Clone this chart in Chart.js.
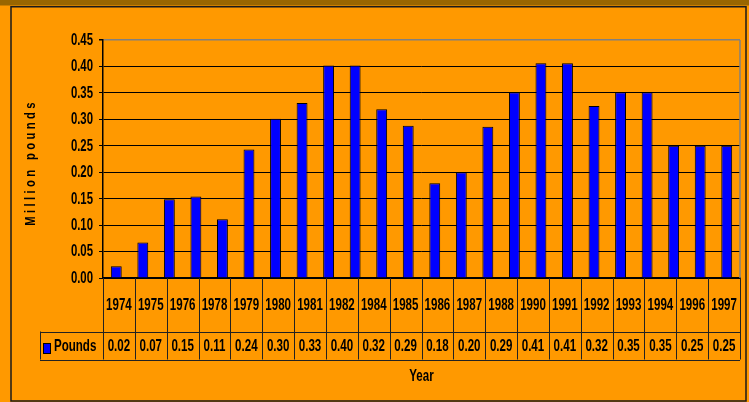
<!DOCTYPE html>
<html>
<head>
<meta charset="utf-8">
<script src="https://cdn.jsdelivr.net/npm/chart.js@4.4.0/dist/chart.umd.min.js"></script>
<style>
  html, body { margin: 0; padding: 0; background: #FF9900; }
  canvas { display: block; }
</style>
</head>
<body>
<canvas id="chart" width="749" height="402"></canvas>
<script>
// bars: one per year 1974-1997
const barYears = ['1974', '1975', '1976', '1977', '1978', '1979', '1980', '1981',
  '1982', '1983', '1984', '1985', '1986', '1987', '1988', '1989',
  '1990', '1991', '1992', '1993', '1994', '1995', '1996', '1997'];
const barValues = [0.022, 0.067, 0.149, 0.154, 0.111, 0.243, 0.301, 0.331,
  0.402, 0.402, 0.319, 0.288, 0.179, 0.200, 0.286, 0.351,
  0.406, 0.406, 0.325, 0.351, 0.351, 0.250, 0.250, 0.250];

// data table under the axis
const tableYears = ['1974', '1975', '1976', '1978', '1979', '1980', '1981', '1982', '1984', '1985',
  '1986', '1987', '1988', '1990', '1991', '1992', '1993', '1994', '1996', '1997'];
const tableValues = ['0.02', '0.07', '0.15', '0.11', '0.24', '0.30', '0.33', '0.40', '0.32', '0.29',
  '0.18', '0.20', '0.29', '0.41', '0.41', '0.32', '0.35', '0.35', '0.25', '0.25'];

const seriesName = 'Pounds';
const yTitle = 'Million pounds';
const xTitle = 'Year';

const FONT = "'Liberation Sans', Arial, sans-serif";

// narrow bold text, squeezed horizontally
function narrowText(ctx, text, x, y, size, align, sx) {
  ctx.save();
  ctx.translate(x, y);
  ctx.scale(sx, 1);
  ctx.font = 'bold ' + size + 'px ' + FONT;
  ctx.textAlign = align;
  ctx.textBaseline = 'middle';
  ctx.fillStyle = '#000';
  ctx.fillText(text, 0, 0);
  ctx.restore();
}

const framePlugin = {
  id: 'frame',
  beforeDraw(chart) {
    const ctx = chart.ctx;
    ctx.save();
    ctx.fillStyle = '#FF9900';
    ctx.fillRect(0, 0, chart.width, chart.height);
    ctx.fillStyle = '#996600';
    ctx.fillRect(0, 0, chart.width, 5.5);
    ctx.strokeStyle = '#1a1a1a';
    ctx.lineWidth = 1.5;
    ctx.strokeRect(11, 6.75, 735, 394.25);
    ctx.restore();
  },
  afterDraw(chart) {
    const ctx = chart.ctx;
    const a = chart.chartArea;
    const ys = chart.scales.y;
    ctx.save();

    // plot area right edge
    ctx.strokeStyle = '#808080';
    ctx.lineWidth = 1.5;
    ctx.beginPath();
    ctx.moveTo(a.right, a.top);
    ctx.lineTo(a.right, a.bottom);
    ctx.stroke();

    // y tick labels
    ys.ticks.forEach(t => {
      narrowText(ctx, t.value.toFixed(2), a.left - 10, ys.getPixelForValue(t.value) + 0.5, 16, 'right', 0.71);
    });

    // y axis title
    ctx.save();
    ctx.translate(31, 164);
    ctx.rotate(-Math.PI / 2);
    ctx.scale(0.75, 1);
    ctx.fillStyle = '#000';
    ctx.font = 'bold 15px ' + FONT;
    ctx.letterSpacing = '4.5px';
    ctx.textAlign = 'center';
    ctx.textBaseline = 'middle';
    ctx.fillText(yTitle, 2, 0);
    ctx.restore();

    // data table
    const colW = (a.right - a.left) / tableYears.length;
    const top = a.bottom;
    const row1 = top + 53.5;
    const row2 = top + 81.5;
    const legendLeft = 40;
    ctx.strokeStyle = '#222';
    ctx.lineWidth = 1;
    ctx.beginPath();
    ctx.moveTo(legendLeft, Math.round(row1) + 0.5);
    ctx.lineTo(a.right, Math.round(row1) + 0.5);
    ctx.moveTo(legendLeft, Math.round(row2) + 0.5);
    ctx.lineTo(a.right, Math.round(row2) + 0.5);
    ctx.moveTo(legendLeft + 0.5, row1);
    ctx.lineTo(legendLeft + 0.5, row2);
    for (let i = 0; i <= tableYears.length; i++) {
      const x = Math.round(a.left + i * colW) + 0.5;
      ctx.moveTo(x, top);
      ctx.lineTo(x, row2);
    }
    ctx.stroke();

    const midRow = (row1 + row2) / 2 + 0.5;
    tableYears.forEach((y, i) => {
      const cx = a.left + (i + 0.5) * colW;
      narrowText(ctx, y, cx, top + 27, 16.5, 'center', 0.7);
      narrowText(ctx, tableValues[i], cx, midRow, 16.5, 'center', 0.7);
    });

    // legend key in the table
    ctx.fillStyle = '#0000FF';
    ctx.fillRect(43.5, 343.5, 7, 10);
    ctx.strokeStyle = '#000';
    ctx.strokeRect(43.5, 343.5, 7, 10);
    narrowText(ctx, seriesName, 54, midRow, 16.5, 'left', 0.7);

    // x axis title
    narrowText(ctx, xTitle, (a.left + a.right) / 2, 376, 16.5, 'center', 0.7);

    ctx.restore();
  }
};

new Chart(document.getElementById('chart'), {
  type: 'bar',
  data: {
    labels: barYears,
    datasets: [{
      label: seriesName,
      data: barValues,
      backgroundColor: '#0000FF',
      borderColor: '#000',
      borderWidth: 1,
      categoryPercentage: 1,
      barPercentage: 0.41
    }]
  },
  options: {
    responsive: false,
    animation: false,
    layout: { padding: { left: 0, right: 9, top: 40, bottom: 124 } },
    plugins: {
      legend: { display: false },
      tooltip: { enabled: false }
    },
    scales: {
      x: {
        grid: { display: false, drawTicks: false },
        ticks: { display: false },
        border: { display: true, color: '#000', width: 1.5 }
      },
      y: {
        min: 0,
        max: 0.45,
        afterFit: s => { s.width = 103; },
        ticks: { stepSize: 0.05, display: false },
        grid: {
          color: c => (c.tick && Math.abs(c.tick.value - 0.45) < 1e-6) ? '#808080' : '#000',
          lineWidth: c => (c.tick && Math.abs(c.tick.value - 0.45) < 1e-6) ? 1.5 : 1,
          tickColor: '#000',
          tickLength: 4
        },
        border: { color: '#000', width: 1.5 }
      }
    }
  },
  plugins: [framePlugin]
});
</script>
</body>
</html>
